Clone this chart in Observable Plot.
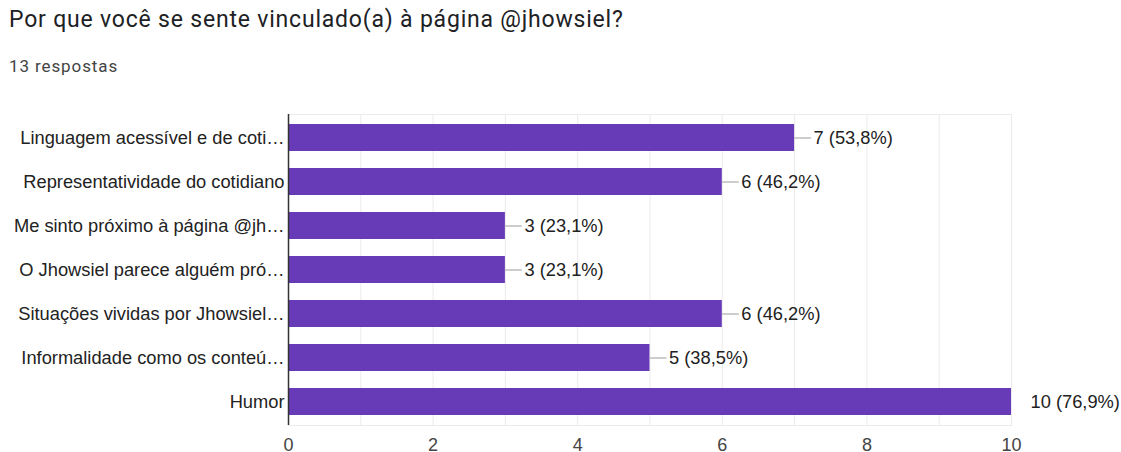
<!DOCTYPE html>
<html><head><meta charset="utf-8">
<script src="https://cdn.jsdelivr.net/npm/d3@7"></script>
<script src="https://cdn.jsdelivr.net/npm/@observablehq/plot@0.6"></script>
<style>
body{margin:0;background:#fff;font-family:Roboto, Arial, sans-serif;}
#title{position:absolute;left:9px;top:6px;font-size:23px;letter-spacing:0.8px;color:#202124;white-space:nowrap}
#sub{position:absolute;left:9px;top:56px;font-size:17px;letter-spacing:0.9px;color:#444;white-space:nowrap}
#chart{position:absolute;left:0;top:95px}
</style></head><body>
<div id="title">Por que você se sente vinculado(a) à página @jhowsiel?</div>
<div id="sub">13 respostas</div>
<div id="chart"></div>
<script>
const categories = [
  "Linguagem acessível e de coti…",
  "Representatividade do cotidiano",
  "Me sinto próximo à página @jh…",
  "O Jhowsiel parece alguém pró…",
  "Situações vividas por Jhowsiel…",
  "Informalidade como os conteú…",
  "Humor"
];
const counts = [7, 6, 3, 3, 6, 5, 10];
const percents = ["53,8%", "46,2%", "23,1%", "23,1%", "46,2%", "38,5%", "76,9%"];
const xTicks = [0, 2, 4, 6, 8, 10];
const gridValues = [0, 1, 2, 3, 4, 5, 6, 7, 8, 9, 10];
const xMax = 10;

const rows = categories.map((c, i) => ({cat: c, value: counts[i], pct: percents[i]}));

const font = "'Liberation Sans', Arial, sans-serif";
const plot = Plot.plot({
  width: 1121,
  height: 357,
  marginTop: 19,
  marginBottom: 27,
  marginLeft: 288,
  marginRight: 110,
  style: {fontFamily: font, fontSize: "18.3px", color: "#222", background: "#fff"},
  x: {domain: [0, xMax], label: null},
  y: {domain: categories, label: null, paddingInner: 0.38, paddingOuter: 0.19},
  marks: [
    Plot.ruleX(gridValues, {stroke: "#ebebeb", strokeOpacity: 1}),
    Plot.frame({stroke: "#ebebeb"}),
    Plot.barX(rows, {x: "value", y: "cat", fill: "#673ab7"}),
    Plot.ruleY(rows.filter(d => d.value < xMax), {y: "cat", x1: "value", x2: d => d.value + 0.235, stroke: "#bdbdbd", strokeWidth: 1.5}),
    Plot.text(rows, {x: "value", y: "cat", text: d => `${d.value} (${d.pct})`, textAnchor: "start", dx: 19, fill: "#222", fontSize: 18.3}),
    Plot.ruleX([0], {stroke: "#333", strokeWidth: 1.5}),
    Plot.axisX({ticks: xTicks, tickSize: 0, tickPadding: 13, fontSize: 18, fill: "#444", label: null}),
    Plot.axisY({tickSize: 0, tickPadding: 4, fontSize: 18.3, fill: "#222", label: null})
  ]
});
document.getElementById("chart").appendChild(plot);
</script>
</body></html>
